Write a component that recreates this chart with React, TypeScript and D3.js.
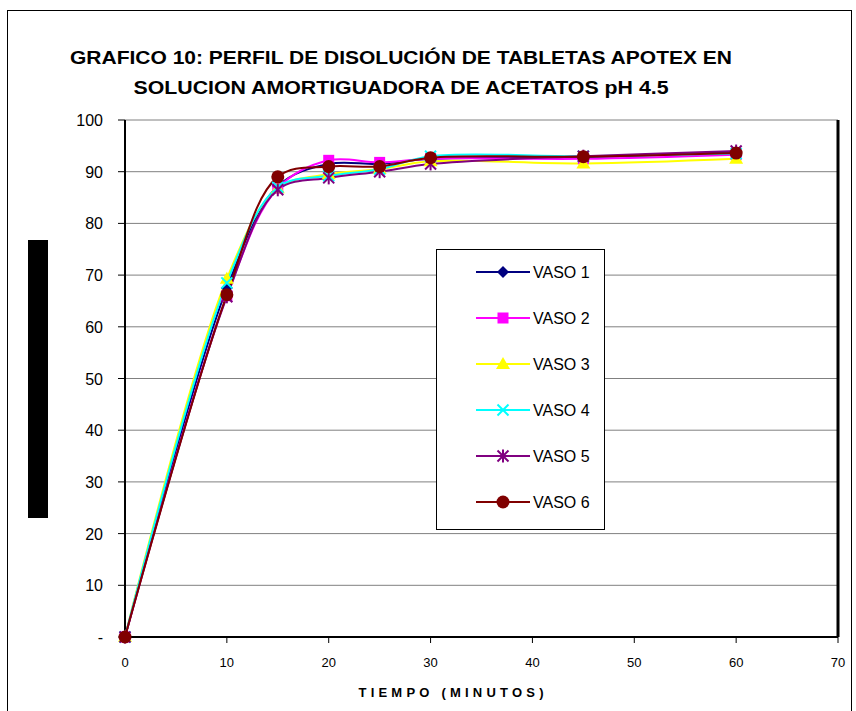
import React from "react";
import * as d3 from "d3";

const times = [0, 10, 15, 20, 25, 30, 45, 60];
const seriesNames = ["VASO 1", "VASO 2", "VASO 3", "VASO 4", "VASO 5", "VASO 6"];
const vaso1 = [0, 67.5, 87.2, 91.5, 91.5, 92.5, 92.8, 93.8];
const vaso2 = [0, 66.0, 86.8, 92.2, 91.8, 92.5, 92.5, 93.3];
const vaso3 = [0, 69.3, 86.8, 89.5, 90.5, 92.0, 91.6, 92.5];
const vaso4 = [0, 68.5, 87.0, 89.2, 90.5, 93.0, 93.0, 93.5];
const vaso5 = [0, 65.8, 86.5, 88.8, 90.0, 91.5, 93.0, 94.0];
const vaso6 = [0, 66.2, 89.0, 91.0, 91.0, 92.7, 92.9, 93.6];
const xTicks = [0, 10, 20, 30, 40, 50, 60, 70];
const yTicks = [0, 10, 20, 30, 40, 50, 60, 70, 80, 90, 100];
const colors = ["#000080", "#FF00FF", "#FFFF00", "#00FFFF", "#800080", "#800000"];
const markers = ["diamond", "square", "triangle", "x", "star", "circle"];

const allSeries = [vaso1, vaso2, vaso3, vaso4, vaso5, vaso6];

function Marker({ type, x, y, color }: { type: string; x: number; y: number; color: string }) {
  if (type === "diamond") {
    const s = 6;
    return <polygon points={`${x},${y - s} ${x + s},${y} ${x},${y + s} ${x - s},${y}`} fill={color} />;
  }
  if (type === "square") {
    return <rect x={x - 5.5} y={y - 5.5} width={11} height={11} fill={color} />;
  }
  if (type === "triangle") {
    return <polygon points={`${x},${y - 7} ${x + 7},${y + 5} ${x - 7},${y + 5}`} fill={color} />;
  }
  if (type === "x") {
    const s = 5.5;
    return (
      <g stroke={color} strokeWidth={2}>
        <line x1={x - s} y1={y - s} x2={x + s} y2={y + s} />
        <line x1={x - s} y1={y + s} x2={x + s} y2={y - s} />
      </g>
    );
  }
  if (type === "star") {
    const s = 5.5;
    return (
      <g stroke={color} strokeWidth={2}>
        <line x1={x - s} y1={y - s} x2={x + s} y2={y + s} />
        <line x1={x - s} y1={y + s} x2={x + s} y2={y - s} />
        <line x1={x} y1={y - s - 1} x2={x} y2={y + s + 1} />
      </g>
    );
  }
  return <circle cx={x} cy={y} r={6.5} fill={color} />;
}

export default function App() {
  const W = 856;
  const H = 711;
  const x0 = 125;
  const x1 = 838;
  const yTop = 120;
  const yBot = 637;
  const x = d3.scaleLinear().domain([0, 70]).range([x0, x1]);
  const y = d3.scaleLinear().domain([0, 100]).range([yBot, yTop]);
  const line = d3
    .line<[number, number]>()
    .x((d) => x(d[0]))
    .y((d) => y(d[1]))
    .curve(d3.curveCatmullRom.alpha(0.5));

  const legendX = 436;
  const legendY = 249;
  const legendW = 168;
  const legendH = 280;

  return (
    <svg width={W} height={H} style={{ display: "block", position: "absolute", left: 0, top: 0 }}
      fontFamily="'Liberation Sans', Arial, sans-serif">
      <rect x={0} y={0} width={W} height={H} fill="#fff" />
      <rect x={7.5} y={10.5} width={844} height={720} fill="none" stroke="#000" strokeWidth={1} />
      <text x={401} y={64} textAnchor="middle" fontSize={18} fontWeight="bold" textLength={662} lengthAdjust="spacingAndGlyphs">
        GRAFICO 10: PERFIL DE DISOLUCIÓN DE TABLETAS APOTEX  EN
      </text>
      <text x={401} y={94} textAnchor="middle" fontSize={18} fontWeight="bold" textLength={535} lengthAdjust="spacingAndGlyphs">
        SOLUCION AMORTIGUADORA DE ACETATOS pH 4.5
      </text>
      <rect x={28} y={240} width={20} height={278} fill="#000" />
      {yTicks.map((t) => (
        <g key={t}>
          {t > 0 && <line x1={x0} x2={x1} y1={y(t)} y2={y(t)} stroke="#808080" strokeWidth={1} />}
          <line x1={x0 - 7} x2={x0} y1={y(t)} y2={y(t)} stroke="#000" strokeWidth={1} />
          <text x={103} y={y(t) + 6} textAnchor="end" fontSize={16}>
            {t === 0 ? "-" : t}
          </text>
        </g>
      ))}
      {xTicks.map((t) => (
        <g key={t}>
          <line x1={x(t)} x2={x(t)} y1={yBot} y2={yBot + 6} stroke="#000" strokeWidth={1} />
          <text x={x(t)} y={667} textAnchor="middle" fontSize={13}>
            {t}
          </text>
        </g>
      ))}
      <line x1={x0} x2={x0} y1={yTop} y2={yBot} stroke="#000" strokeWidth={2} />
      <line x1={x0} x2={x1} y1={yBot} y2={yBot} stroke="#000" strokeWidth={2} />
      <line x1={x1} x2={x1} y1={yTop} y2={yBot} stroke="#000" strokeWidth={3} />
      <text x={451} y={697} textAnchor="middle" fontSize={13} fontWeight="bold" textLength={185} lengthAdjust="spacing">
        TIEMPO (MINUTOS)
      </text>
      {allSeries.map((vals, i) => {
        const pts = times.map((t, j) => [t, vals[j]] as [number, number]);
        return (
          <g key={i}>
            <path d={line(pts) || ""} fill="none" stroke={colors[i]} strokeWidth={2} />
          </g>
        );
      })}
      {allSeries.map((vals, i) => (
        <g key={"m" + i}>
          {times.map((t, j) => (
            <Marker key={j} type={markers[i]} x={x(t)} y={y(vals[j])} color={colors[i]} />
          ))}
        </g>
      ))}
      <rect x={legendX + 0.5} y={legendY + 0.5} width={legendW} height={legendH} fill="#fff" stroke="#000" strokeWidth={1} />
      {seriesNames.map((n, i) => {
        const ly = 272 + i * 46;
        return (
          <g key={n}>
            <line x1={476} x2={530} y1={ly} y2={ly} stroke={colors[i]} strokeWidth={2} />
            <Marker type={markers[i]} x={503} y={ly} color={colors[i]} />
            <text x={533} y={ly + 6} fontSize={16}>
              {n}
            </text>
          </g>
        );
      })}
    </svg>
  );
}
